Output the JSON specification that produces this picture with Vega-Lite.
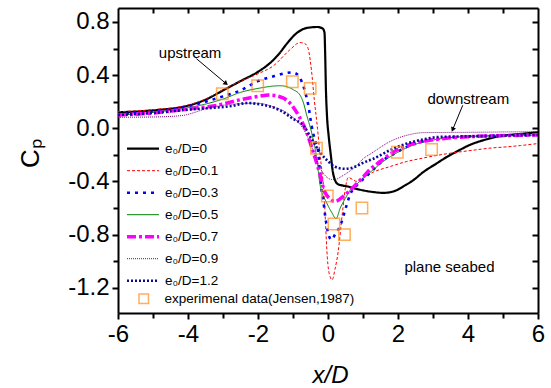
{
  "$schema": "https://vega.github.io/schema/vega-lite/v6.json",
  "width": 420,
  "height": 305,
  "autosize": "none",
  "padding": {"left": 118, "top": 8, "right": 13, "bottom": 75},
  "background": "white",
  "config": {"view": {"stroke": null}, "font": "Liberation Sans"},
  "datasets": {
    "curves": [
      {"series": "e₀/D=0", "x": -6, "y": 0.12}, {"series": "e₀/D=0", "x": -5, "y": 0.135}, {"series": "e₀/D=0", "x": -4, "y": 0.17}, {"series": "e₀/D=0", "x": -3.5, "y": 0.215}, {"series": "e₀/D=0", "x": -3, "y": 0.285}, {"series": "e₀/D=0", "x": -2.5, "y": 0.355}, {"series": "e₀/D=0", "x": -2, "y": 0.425}, {"series": "e₀/D=0", "x": -1.66, "y": 0.49}, {"series": "e₀/D=0", "x": -1.4, "y": 0.56}, {"series": "e₀/D=0", "x": -1.18, "y": 0.635}, {"series": "e₀/D=0", "x": -0.9, "y": 0.715}, {"series": "e₀/D=0", "x": -0.6, "y": 0.755}, {"series": "e₀/D=0", "x": -0.3, "y": 0.762}, {"series": "e₀/D=0", "x": -0.15, "y": 0.75}, {"series": "e₀/D=0", "x": -0.1, "y": 0.72}, {"series": "e₀/D=0", "x": -0.08, "y": 0.55}, {"series": "e₀/D=0", "x": -0.06, "y": 0.3}, {"series": "e₀/D=0", "x": -0.03, "y": 0.1}, {"series": "e₀/D=0", "x": 0.02, "y": -0.06}, {"series": "e₀/D=0", "x": 0.08, "y": -0.2}, {"series": "e₀/D=0", "x": 0.14, "y": -0.33}, {"series": "e₀/D=0", "x": 0.2, "y": -0.39}, {"series": "e₀/D=0", "x": 0.28, "y": -0.42}, {"series": "e₀/D=0", "x": 0.4, "y": -0.43}, {"series": "e₀/D=0", "x": 0.6, "y": -0.44}, {"series": "e₀/D=0", "x": 0.8, "y": -0.455}, {"series": "e₀/D=0", "x": 1.0, "y": -0.467}, {"series": "e₀/D=0", "x": 1.3, "y": -0.48}, {"series": "e₀/D=0", "x": 1.58, "y": -0.486}, {"series": "e₀/D=0", "x": 1.8, "y": -0.48}, {"series": "e₀/D=0", "x": 1.96, "y": -0.466}, {"series": "e₀/D=0", "x": 2.2, "y": -0.43}, {"series": "e₀/D=0", "x": 2.44, "y": -0.39}, {"series": "e₀/D=0", "x": 2.72, "y": -0.33}, {"series": "e₀/D=0", "x": 3.1, "y": -0.265}, {"series": "e₀/D=0", "x": 3.4, "y": -0.215}, {"series": "e₀/D=0", "x": 3.68, "y": -0.175}, {"series": "e₀/D=0", "x": 4.1, "y": -0.12}, {"series": "e₀/D=0", "x": 4.44, "y": -0.09}, {"series": "e₀/D=0", "x": 4.8, "y": -0.065}, {"series": "e₀/D=0", "x": 5.2, "y": -0.05}, {"series": "e₀/D=0", "x": 5.6, "y": -0.04}, {"series": "e₀/D=0", "x": 6, "y": -0.03},

      {"series": "e₀/D=0.1", "x": -6, "y": 0.125}, {"series": "e₀/D=0.1", "x": -5, "y": 0.14}, {"series": "e₀/D=0.1", "x": -4, "y": 0.175}, {"series": "e₀/D=0.1", "x": -3.5, "y": 0.22}, {"series": "e₀/D=0.1", "x": -3, "y": 0.29}, {"series": "e₀/D=0.1", "x": -2.5, "y": 0.355}, {"series": "e₀/D=0.1", "x": -2, "y": 0.41}, {"series": "e₀/D=0.1", "x": -1.56, "y": 0.47}, {"series": "e₀/D=0.1", "x": -1.09, "y": 0.59}, {"series": "e₀/D=0.1", "x": -0.8, "y": 0.645}, {"series": "e₀/D=0.1", "x": -0.62, "y": 0.63}, {"series": "e₀/D=0.1", "x": -0.55, "y": 0.58}, {"series": "e₀/D=0.1", "x": -0.47, "y": 0.43}, {"series": "e₀/D=0.1", "x": -0.39, "y": 0.21}, {"series": "e₀/D=0.1", "x": -0.3, "y": 0.0}, {"series": "e₀/D=0.1", "x": -0.24, "y": -0.17}, {"series": "e₀/D=0.1", "x": -0.17, "y": -0.33}, {"series": "e₀/D=0.1", "x": -0.11, "y": -0.5}, {"series": "e₀/D=0.1", "x": -0.07, "y": -0.72}, {"series": "e₀/D=0.1", "x": -0.02, "y": -0.97}, {"series": "e₀/D=0.1", "x": 0.04, "y": -1.1}, {"series": "e₀/D=0.1", "x": 0.12, "y": -1.14}, {"series": "e₀/D=0.1", "x": 0.2, "y": -1.06}, {"series": "e₀/D=0.1", "x": 0.29, "y": -0.93}, {"series": "e₀/D=0.1", "x": 0.39, "y": -0.69}, {"series": "e₀/D=0.1", "x": 0.49, "y": -0.46}, {"series": "e₀/D=0.1", "x": 0.58, "y": -0.37}, {"series": "e₀/D=0.1", "x": 0.7, "y": -0.385}, {"series": "e₀/D=0.1", "x": 0.82, "y": -0.4}, {"series": "e₀/D=0.1", "x": 1.0, "y": -0.37}, {"series": "e₀/D=0.1", "x": 1.29, "y": -0.33}, {"series": "e₀/D=0.1", "x": 1.75, "y": -0.29}, {"series": "e₀/D=0.1", "x": 2.25, "y": -0.25}, {"series": "e₀/D=0.1", "x": 2.7, "y": -0.225}, {"series": "e₀/D=0.1", "x": 3.2, "y": -0.2}, {"series": "e₀/D=0.1", "x": 3.7, "y": -0.18}, {"series": "e₀/D=0.1", "x": 4.15, "y": -0.165}, {"series": "e₀/D=0.1", "x": 4.6, "y": -0.15}, {"series": "e₀/D=0.1", "x": 5.1, "y": -0.14}, {"series": "e₀/D=0.1", "x": 5.5, "y": -0.13}, {"series": "e₀/D=0.1", "x": 6, "y": -0.115},

      {"series": "e₀/D=0.3", "x": -6, "y": 0.105}, {"series": "e₀/D=0.3", "x": -5, "y": 0.125}, {"series": "e₀/D=0.3", "x": -4, "y": 0.165}, {"series": "e₀/D=0.3", "x": -3.5, "y": 0.2}, {"series": "e₀/D=0.3", "x": -3, "y": 0.24}, {"series": "e₀/D=0.3", "x": -2.5, "y": 0.285}, {"series": "e₀/D=0.3", "x": -2, "y": 0.355}, {"series": "e₀/D=0.3", "x": -1.5, "y": 0.395}, {"series": "e₀/D=0.3", "x": -1.04, "y": 0.42}, {"series": "e₀/D=0.3", "x": -0.9, "y": 0.41}, {"series": "e₀/D=0.3", "x": -0.75, "y": 0.35}, {"series": "e₀/D=0.3", "x": -0.65, "y": 0.27}, {"series": "e₀/D=0.3", "x": -0.56, "y": 0.17}, {"series": "e₀/D=0.3", "x": -0.47, "y": 0.02}, {"series": "e₀/D=0.3", "x": -0.36, "y": -0.1}, {"series": "e₀/D=0.3", "x": -0.3, "y": -0.14}, {"series": "e₀/D=0.3", "x": -0.24, "y": -0.3}, {"series": "e₀/D=0.3", "x": -0.18, "y": -0.47}, {"series": "e₀/D=0.3", "x": -0.13, "y": -0.55}, {"series": "e₀/D=0.3", "x": -0.09, "y": -0.64}, {"series": "e₀/D=0.3", "x": -0.04, "y": -0.73}, {"series": "e₀/D=0.3", "x": 0.1, "y": -0.84}, {"series": "e₀/D=0.3", "x": 0.2, "y": -0.8}, {"series": "e₀/D=0.3", "x": 0.34, "y": -0.74}, {"series": "e₀/D=0.3", "x": 0.53, "y": -0.58}, {"series": "e₀/D=0.3", "x": 0.63, "y": -0.5}, {"series": "e₀/D=0.3", "x": 0.82, "y": -0.43}, {"series": "e₀/D=0.3", "x": 1.06, "y": -0.37}, {"series": "e₀/D=0.3", "x": 1.3, "y": -0.31}, {"series": "e₀/D=0.3", "x": 1.58, "y": -0.24}, {"series": "e₀/D=0.3", "x": 1.9, "y": -0.19}, {"series": "e₀/D=0.3", "x": 2.25, "y": -0.14}, {"series": "e₀/D=0.3", "x": 2.7, "y": -0.1}, {"series": "e₀/D=0.3", "x": 3.2, "y": -0.078}, {"series": "e₀/D=0.3", "x": 4.15, "y": -0.06}, {"series": "e₀/D=0.3", "x": 5.1, "y": -0.055}, {"series": "e₀/D=0.3", "x": 6, "y": -0.05},

      {"series": "e₀/D=0.5", "x": -6, "y": 0.1}, {"series": "e₀/D=0.5", "x": -5, "y": 0.12}, {"series": "e₀/D=0.5", "x": -4, "y": 0.155}, {"series": "e₀/D=0.5", "x": -3.7, "y": 0.17}, {"series": "e₀/D=0.5", "x": -3, "y": 0.22}, {"series": "e₀/D=0.5", "x": -2.5, "y": 0.27}, {"series": "e₀/D=0.5", "x": -2, "y": 0.3}, {"series": "e₀/D=0.5", "x": -1.37, "y": 0.32}, {"series": "e₀/D=0.5", "x": -1.2, "y": 0.315}, {"series": "e₀/D=0.5", "x": -0.99, "y": 0.29}, {"series": "e₀/D=0.5", "x": -0.8, "y": 0.25}, {"series": "e₀/D=0.5", "x": -0.7, "y": 0.19}, {"series": "e₀/D=0.5", "x": -0.61, "y": 0.1}, {"series": "e₀/D=0.5", "x": -0.47, "y": -0.03}, {"series": "e₀/D=0.5", "x": -0.32, "y": -0.23}, {"series": "e₀/D=0.5", "x": -0.23, "y": -0.42}, {"series": "e₀/D=0.5", "x": -0.04, "y": -0.56}, {"series": "e₀/D=0.5", "x": 0.1, "y": -0.63}, {"series": "e₀/D=0.5", "x": 0.23, "y": -0.68}, {"series": "e₀/D=0.5", "x": 0.35, "y": -0.6}, {"series": "e₀/D=0.5", "x": 0.49, "y": -0.53}, {"series": "e₀/D=0.5", "x": 0.65, "y": -0.46}, {"series": "e₀/D=0.5", "x": 0.82, "y": -0.42}, {"series": "e₀/D=0.5", "x": 1.0, "y": -0.38}, {"series": "e₀/D=0.5", "x": 1.3, "y": -0.31}, {"series": "e₀/D=0.5", "x": 1.58, "y": -0.25}, {"series": "e₀/D=0.5", "x": 2.0, "y": -0.18}, {"series": "e₀/D=0.5", "x": 2.5, "y": -0.12}, {"series": "e₀/D=0.5", "x": 3.2, "y": -0.08}, {"series": "e₀/D=0.5", "x": 4.15, "y": -0.06}, {"series": "e₀/D=0.5", "x": 5.1, "y": -0.055}, {"series": "e₀/D=0.5", "x": 6, "y": -0.05},

      {"series": "e₀/D=0.7", "x": -6, "y": 0.1}, {"series": "e₀/D=0.7", "x": -5, "y": 0.115}, {"series": "e₀/D=0.7", "x": -4, "y": 0.145}, {"series": "e₀/D=0.7", "x": -3.23, "y": 0.17}, {"series": "e₀/D=0.7", "x": -2.5, "y": 0.215}, {"series": "e₀/D=0.7", "x": -2, "y": 0.24}, {"series": "e₀/D=0.7", "x": -1.66, "y": 0.25}, {"series": "e₀/D=0.7", "x": -1.3, "y": 0.23}, {"series": "e₀/D=0.7", "x": -1.09, "y": 0.19}, {"series": "e₀/D=0.7", "x": -0.85, "y": 0.1}, {"series": "e₀/D=0.7", "x": -0.61, "y": -0.03}, {"series": "e₀/D=0.7", "x": -0.47, "y": -0.14}, {"series": "e₀/D=0.7", "x": -0.28, "y": -0.3}, {"series": "e₀/D=0.7", "x": -0.09, "y": -0.48}, {"series": "e₀/D=0.7", "x": 0.05, "y": -0.53}, {"series": "e₀/D=0.7", "x": 0.2, "y": -0.55}, {"series": "e₀/D=0.7", "x": 0.4, "y": -0.52}, {"series": "e₀/D=0.7", "x": 0.58, "y": -0.48}, {"series": "e₀/D=0.7", "x": 0.77, "y": -0.43}, {"series": "e₀/D=0.7", "x": 0.96, "y": -0.38}, {"series": "e₀/D=0.7", "x": 1.2, "y": -0.31}, {"series": "e₀/D=0.7", "x": 1.49, "y": -0.25}, {"series": "e₀/D=0.7", "x": 1.8, "y": -0.19}, {"series": "e₀/D=0.7", "x": 2.25, "y": -0.13}, {"series": "e₀/D=0.7", "x": 2.7, "y": -0.1}, {"series": "e₀/D=0.7", "x": 3.2, "y": -0.08}, {"series": "e₀/D=0.7", "x": 4.15, "y": -0.062}, {"series": "e₀/D=0.7", "x": 5.1, "y": -0.055}, {"series": "e₀/D=0.7", "x": 6, "y": -0.05},

      {"series": "e₀/D=0.9", "x": -6, "y": 0.083}, {"series": "e₀/D=0.9", "x": -5, "y": 0.085}, {"series": "e₀/D=0.9", "x": -4.2, "y": 0.095}, {"series": "e₀/D=0.9", "x": -3.3, "y": 0.16}, {"series": "e₀/D=0.9", "x": -2.5, "y": 0.185}, {"series": "e₀/D=0.9", "x": -2, "y": 0.188}, {"series": "e₀/D=0.9", "x": -1.56, "y": 0.16}, {"series": "e₀/D=0.9", "x": -1.09, "y": 0.1}, {"series": "e₀/D=0.9", "x": -0.61, "y": -0.05}, {"series": "e₀/D=0.9", "x": -0.42, "y": -0.17}, {"series": "e₀/D=0.9", "x": -0.28, "y": -0.27}, {"series": "e₀/D=0.9", "x": -0.1, "y": -0.35}, {"series": "e₀/D=0.9", "x": 0.1, "y": -0.385}, {"series": "e₀/D=0.9", "x": 0.2, "y": -0.385}, {"series": "e₀/D=0.9", "x": 0.4, "y": -0.36}, {"series": "e₀/D=0.9", "x": 0.58, "y": -0.33}, {"series": "e₀/D=0.9", "x": 0.82, "y": -0.28}, {"series": "e₀/D=0.9", "x": 0.96, "y": -0.24}, {"series": "e₀/D=0.9", "x": 1.29, "y": -0.18}, {"series": "e₀/D=0.9", "x": 1.77, "y": -0.1}, {"series": "e₀/D=0.9", "x": 2.25, "y": -0.053}, {"series": "e₀/D=0.9", "x": 2.72, "y": -0.033}, {"series": "e₀/D=0.9", "x": 4.15, "y": -0.03}, {"series": "e₀/D=0.9", "x": 6, "y": -0.025},

      {"series": "e₀/D=1.2", "x": -6, "y": 0.1}, {"series": "e₀/D=1.2", "x": -5, "y": 0.115}, {"series": "e₀/D=1.2", "x": -4, "y": 0.14}, {"series": "e₀/D=1.2", "x": -3.5, "y": 0.15}, {"series": "e₀/D=1.2", "x": -2.75, "y": 0.168}, {"series": "e₀/D=1.2", "x": -2.3, "y": 0.19}, {"series": "e₀/D=1.2", "x": -1.94, "y": 0.18}, {"series": "e₀/D=1.2", "x": -1.37, "y": 0.135}, {"series": "e₀/D=1.2", "x": -0.99, "y": 0.07}, {"series": "e₀/D=1.2", "x": -0.7, "y": 0.02}, {"series": "e₀/D=1.2", "x": -0.47, "y": -0.08}, {"series": "e₀/D=1.2", "x": -0.23, "y": -0.18}, {"series": "e₀/D=1.2", "x": 0.01, "y": -0.25}, {"series": "e₀/D=1.2", "x": 0.2, "y": -0.29}, {"series": "e₀/D=1.2", "x": 0.49, "y": -0.305}, {"series": "e₀/D=1.2", "x": 0.77, "y": -0.29}, {"series": "e₀/D=1.2", "x": 1.0, "y": -0.26}, {"series": "e₀/D=1.2", "x": 1.29, "y": -0.23}, {"series": "e₀/D=1.2", "x": 1.77, "y": -0.165}, {"series": "e₀/D=1.2", "x": 2.25, "y": -0.115}, {"series": "e₀/D=1.2", "x": 2.7, "y": -0.085}, {"series": "e₀/D=1.2", "x": 3.2, "y": -0.065}, {"series": "e₀/D=1.2", "x": 4.15, "y": -0.06}, {"series": "e₀/D=1.2", "x": 5.1, "y": -0.055}, {"series": "e₀/D=1.2", "x": 6, "y": -0.05}
    ],
    "exp": [
      {"label": "experimenal data(Jensen,1987)", "x": -3.02, "y": 0.26},
      {"label": "experimenal data(Jensen,1987)", "x": -2.01, "y": 0.32},
      {"label": "experimenal data(Jensen,1987)", "x": -1.02, "y": 0.35},
      {"label": "experimenal data(Jensen,1987)", "x": -0.51, "y": 0.3},
      {"label": "experimenal data(Jensen,1987)", "x": -0.33, "y": -0.15},
      {"label": "experimenal data(Jensen,1987)", "x": -0.02, "y": -0.51},
      {"label": "experimenal data(Jensen,1987)", "x": 0.17, "y": -0.72},
      {"label": "experimenal data(Jensen,1987)", "x": 0.47, "y": -0.8},
      {"label": "experimenal data(Jensen,1987)", "x": 0.97, "y": -0.6},
      {"label": "experimenal data(Jensen,1987)", "x": 1.98, "y": -0.18},
      {"label": "experimenal data(Jensen,1987)", "x": 2.96, "y": -0.16}
    ],
    "notes": [
      {"text": "upstream", "x": -3.94, "y": 0.57},
      {"text": "downstream", "x": 4.01, "y": 0.218},
      {"text": "plane seabed", "x": 3.47, "y": -1.045}
    ],
    "arrows": [
      {"name": "upstream", "x": -3.76, "y": 0.524, "x2": -2.93, "y2": 0.34},
      {"name": "downstream", "x": 3.85, "y": 0.173, "x2": 3.57, "y2": -0.005}
    ]
  },
  "layer": [
    {
      "data": {"name": "curves"},
      "mark": {"type": "line", "interpolate": "monotone", "clip": true},
      "encoding": {
        "x": {"field": "x", "type": "quantitative",
          "scale": {"domain": [-6, 6], "nice": false, "zero": false},
          "axis": {"orient": "bottom", "values": [-6, -4, -2, 0, 2, 4, 6], "tickSize": 6, "tickWidth": 2, "tickColor": "black", "domainColor": "black", "domainWidth": 2, "labelFontSize": 24, "labelFont": "Liberation Sans", "labelColor": "black", "labelPadding": 3, "labelFlush": false, "labelOverlap": false, "grid": false,
            "labelExpr": "(datum.value < 0 ? '-' : '') + format(abs(datum.value), 'd')",
            "title": "x/D", "titleFont": "Liberation Sans", "titleFontSize": 24, "titleFontStyle": "italic", "titleFontWeight": "normal", "titleColor": "black", "titleX": 212, "titleY": 62, "titleBaseline": "middle", "titleAlign": "center"}},
        "y": {"field": "y", "type": "quantitative",
          "scale": {"domain": [-1.39, 0.905], "nice": false, "zero": false},
          "axis": {"orient": "left", "values": [-1.2, -0.8, -0.4, 0, 0.4, 0.8], "tickSize": 6, "tickWidth": 2, "tickColor": "black", "domainColor": "black", "domainWidth": 2, "labelFontSize": 24, "labelFont": "Liberation Sans", "labelColor": "black", "labelPadding": 3, "labelFlush": false, "labelOverlap": false, "grid": false,
            "labelExpr": "(datum.value < 0 ? '-' : '') + format(abs(datum.value), '.1f')",
            "title": "Cₚ", "titleFont": "Liberation Sans", "titleFontSize": 26, "titleFontWeight": "normal", "titleColor": "black", "titleAngle": 270, "titleX": -88, "titleY": 145, "titleBaseline": "middle", "titleAlign": "center"}},
        "color": {"field": "series", "type": "nominal",
          "scale": {"domain": ["e₀/D=0", "e₀/D=0.1", "e₀/D=0.3", "e₀/D=0.5", "e₀/D=0.7", "e₀/D=0.9", "e₀/D=1.2"],
                    "range": ["#000000", "#ff0000", "#0000ff", "#008000", "#ff00ff", "#800080", "#0a0a96"]},
          "legend": {"orient": "none", "legendX": 7, "legendY": 130, "title": null, "padding": 0, "symbolType": "stroke", "symbolSize": 1024, "labelFontSize": 13.5, "labelFont": "Liberation Sans", "labelColor": "black", "labelOffset": 4, "rowPadding": 0, "clipHeight": 21.4}},
        "strokeDash": {"field": "series", "type": "nominal",
          "scale": {"domain": ["e₀/D=0", "e₀/D=0.1", "e₀/D=0.3", "e₀/D=0.5", "e₀/D=0.7", "e₀/D=0.9", "e₀/D=1.2"],
                    "range": [[1, 0], [3, 2], [3, 5], [1, 0], [9, 3, 3, 3], [1, 1], [2, 2]]}},
        "strokeWidth": {"field": "series", "type": "nominal",
          "scale": {"type": "ordinal", "domain": ["e₀/D=0", "e₀/D=0.1", "e₀/D=0.3", "e₀/D=0.5", "e₀/D=0.7", "e₀/D=0.9", "e₀/D=1.2"],
                    "range": [2.2, 1, 2.6, 1, 3.5, 1, 2.6]}}
      }
    },
    {
      "data": {"name": "exp"},
      "mark": {"type": "point", "filled": false, "color": "#ff8c1a", "strokeWidth": 1.5, "size": 130},
      "encoding": {
        "x": {"field": "x", "type": "quantitative",
          "axis": {"orient": "bottom", "values": [-5, -3, -1, 1, 3, 5], "tickSize": 5, "tickWidth": 2, "tickColor": "black", "domain": false, "labels": false, "grid": false, "title": null}},
        "y": {"field": "y", "type": "quantitative",
          "axis": {"orient": "left", "values": [-1.0, -0.6, -0.2, 0.2, 0.6], "tickSize": 5, "tickWidth": 2, "tickColor": "black", "domain": false, "labels": false, "grid": false, "title": null}},
        "shape": {"field": "label", "type": "nominal",
          "scale": {"range": ["square"]},
          "legend": {"orient": "none", "legendX": 19, "legendY": 284, "title": null, "padding": 0, "symbolSize": 90, "symbolStrokeWidth": 1.5, "symbolStrokeColor": "#ff8c1a", "symbolFillColor": "transparent", "labelFontSize": 13.5, "labelFont": "Liberation Sans", "labelColor": "black", "labelOffset": 14, "labelLimit": 400}}
      }
    },
    {
      "data": {"name": "notes"},
      "mark": {"type": "text", "font": "Liberation Sans", "fontSize": 15, "color": "black", "align": "center", "baseline": "middle"},
      "encoding": {
        "x": {"field": "x", "type": "quantitative",
          "axis": {"orient": "top", "values": [-5, -4, -3, -2, -1, 0, 1, 2, 3, 4, 5], "tickSize": -5, "tickWidth": 2, "tickColor": "black", "domainColor": "black", "domainWidth": 2, "labels": false, "grid": false, "title": null}},
        "y": {"field": "y", "type": "quantitative",
          "axis": {"orient": "right", "values": [-1.2, -1.0, -0.8, -0.6, -0.4, -0.2, 0, 0.2, 0.4, 0.6, 0.8], "tickSize": -6, "tickWidth": 2, "tickColor": "black", "domainColor": "black", "domainWidth": 2, "labels": false, "grid": false, "title": null}},
        "text": {"field": "text"}
      }
    },
    {
      "data": {"name": "arrows"},
      "mark": {"type": "rule", "color": "black", "strokeWidth": 1},
      "encoding": {
        "x": {"field": "x", "type": "quantitative", "axis": null},
        "y": {"field": "y", "type": "quantitative", "axis": null},
        "x2": {"field": "x2"},
        "y2": {"field": "y2"}
      }
    },
    {
      "data": {"name": "arrows"},
      "mark": {"type": "point", "shape": "triangle", "filled": true, "color": "black", "size": 28, "opacity": 1},
      "encoding": {
        "x": {"field": "x2", "type": "quantitative", "axis": null},
        "y": {"field": "y2", "type": "quantitative", "axis": null},
        "angle": {"field": "name", "type": "nominal", "scale": {"domain": ["upstream", "downstream"], "range": [130, 202]}, "legend": null}
      }
    }
  ],
  "resolve": {"axis": {"x": "independent", "y": "independent"}}
}
